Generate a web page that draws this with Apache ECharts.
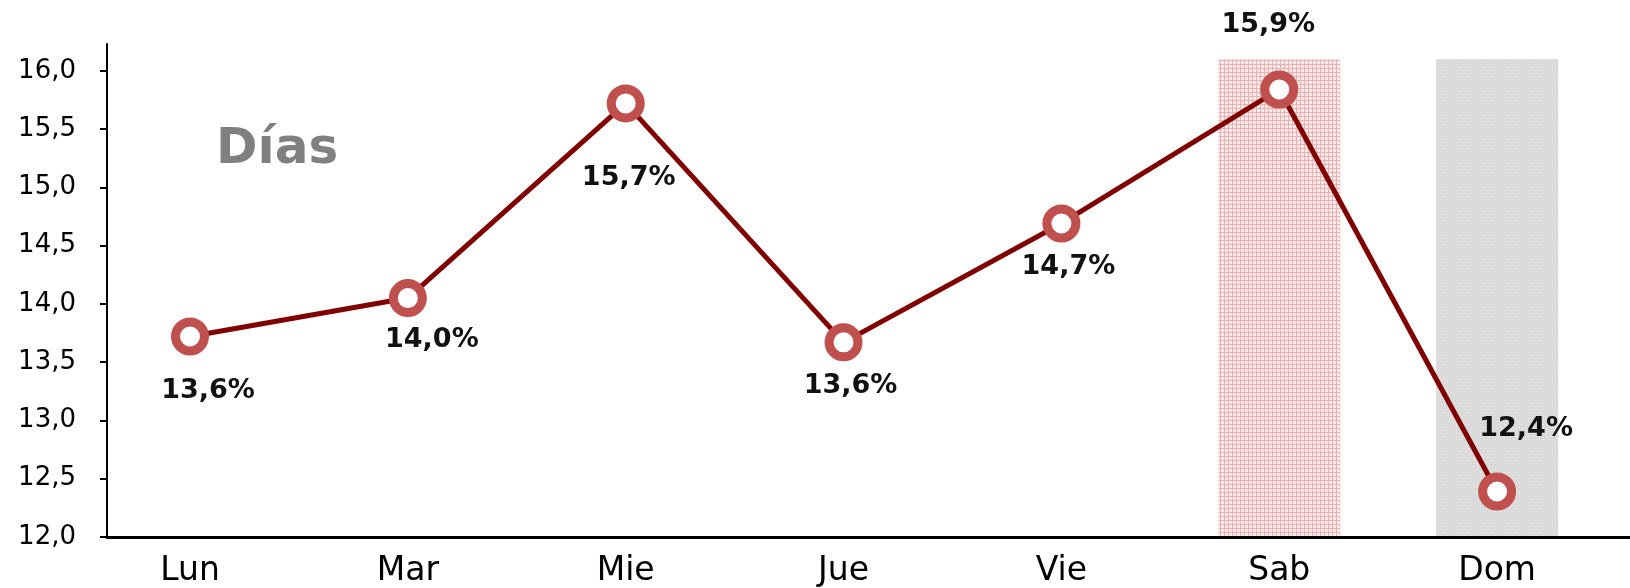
<!DOCTYPE html>
<html>
<head>
<meta charset="utf-8">
<script src="https://cdn.jsdelivr.net/npm/echarts@6/dist/echarts.min.js"></script>
<style>
html,body{margin:0;padding:0;background:#fff;}
#chart{width:1630px;height:588px;}
</style>
</head>
<body>
<div id="chart"></div>
<script>
// ---- data ----
const categories = ["Lun", "Mar", "Mie", "Jue", "Vie", "Sab", "Dom"];
const values = [13.72, 14.05, 15.72, 13.67, 14.69, 15.84, 12.39];
const valueLabels = ["13,6%", "14,0%", "15,7%", "13,6%", "14,7%", "15,9%", "12,4%"];
const yTicks = [12.0, 12.5, 13.0, 13.5, 14.0, 14.5, 15.0, 15.5, 16.0];
const highlightDays = ["Sab", "Dom"];
const chartTitle = "Días";

// ---- layout / style ----
const labelOffsets = [[18, 54], [24, 42], [3, 75], [7, 44], [7, 43], [-11, -64], [29, -63]];
const FONT = "DejaVu Sans";

function makePattern(w, h, base, dotColor, dots, lines) {
  const c = document.createElement('canvas');
  c.width = w; c.height = h;
  const g = c.getContext('2d');
  g.fillStyle = base; g.fillRect(0, 0, w, h);
  if (lines) {
    g.fillStyle = dotColor;
    g.fillRect(0, 0, w, 1);
    g.fillRect(0, 0, 1, h);
  }
  (dots || []).forEach(function (d) { g.fillStyle = d[2]; g.fillRect(d[0], d[1], 1, 1); });
  return c;
}
const pinkPat = makePattern(4, 4, '#f9e6e6', '#eab3b3', [[2, 2, '#ffffff']], true);
const grayPat = makePattern(6, 6, '#dadada', null,
  [[1, 1, '#ededed'], [4, 4, '#ededed'], [4, 1, '#e3e3e3'], [1, 4, '#e3e3e3']], false);

const bandHalf = 0.28;
const markAreaData = highlightDays.map(function (d, k) {
  const i = categories.indexOf(d);
  return [
    { xAxis: i - bandHalf, yAxis: k === 0 ? 12 : 11.94,
      itemStyle: { color: { image: k === 0 ? pinkPat : grayPat, repeat: 'repeat' } } },
    { xAxis: i + bandHalf, yAxis: 16.1 }
  ];
});

const seriesData = values.map(function (v, i) {
  return { value: [i, v], label: { offset: labelOffsets[i] } };
});

const chart = echarts.init(document.getElementById('chart'), null, { renderer: 'canvas' });
chart.setOption({
  animation: false,
  backgroundColor: '#ffffff',
  title: {
    text: chartTitle,
    left: 211, top: 120,
    textStyle: { fontFamily: FONT, fontWeight: 'bold', fontSize: 50, color: '#808080' }
  },
  grid: { left: 107, right: 0, top: 44, bottom: 49 },
  xAxis: {
    type: 'value',
    min: -0.381, max: 6.61,
    z: 5,
    axisLine: { show: true, onZero: false, lineStyle: { color: '#000', width: 3 } },
    axisTick: { show: false },
    splitLine: { show: false },
    axisLabel: {
      customValues: categories.map(function (c, i) { return i; }),
      formatter: function (v) { return categories[Math.round(v)]; },
      fontFamily: FONT, fontSize: 33, color: '#000', margin: 18
    }
  },
  yAxis: {
    type: 'value',
    min: 12, max: 16.23,
    z: 5,
    axisLine: { show: true, onZero: false, lineStyle: { color: '#000', width: 2 } },
    axisTick: { show: true, customValues: yTicks, length: 7, lineStyle: { color: '#000', width: 2 } },
    splitLine: { show: false },
    axisLabel: {
      customValues: yTicks,
      formatter: function (v) { return v.toFixed(1).replace('.', ','); },
      fontFamily: FONT, fontSize: 26, color: '#000', margin: 31
    }
  },
  series: [{
    type: 'line',
    data: seriesData,
    clip: false,
    symbol: 'circle',
    symbolSize: 29,
    lineStyle: { color: '#800000', width: 5 },
    itemStyle: { color: '#ffffff', borderColor: '#c0504d', borderWidth: 9 },
    label: {
      show: true,
      position: 'inside',
      align: 'center',
      verticalAlign: 'middle',
      formatter: function (p) { return valueLabels[p.dataIndex]; },
      fontFamily: FONT, fontWeight: 'bold', fontSize: 27, color: '#111'
    },
    markArea: {
      silent: true,
      data: markAreaData
    },
    z: 3
  }]
});
</script>
</body>
</html>
